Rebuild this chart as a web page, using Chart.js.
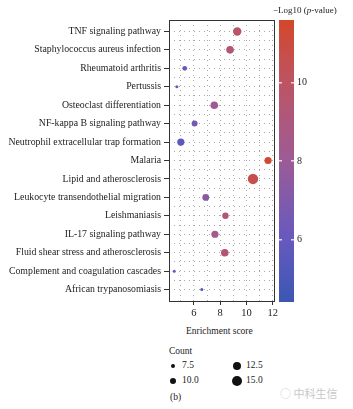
<!DOCTYPE html>
<html>
<head>
<meta charset="utf-8">
<script src="https://cdn.jsdelivr.net/npm/chart.js@4/dist/chart.umd.min.js"></script>
<style>
  body { margin: 0; background: #fff; font-family: "Liberation Serif", serif; color: #222; }
  #wrap { position: relative; width: 353px; height: 409px; overflow: hidden; }
  #mainCanvas { position: absolute; left: 0; top: 0; }
  #barCanvas { position: absolute; left: 270px; top: 0; }
  .txt { position: absolute; font-size: 9.5px; white-space: nowrap; }
  .dot { position: absolute; background: #111; border-radius: 50%; }
</style>
</head>
<body>
<div id="wrap">
  <canvas id="mainCanvas" width="280" height="325"></canvas>
  <canvas id="barCanvas" width="83" height="320"></canvas>
  <div class="txt" style="left:273px; top:5px; font-size:9px;">&minus;Log10 (<i>p</i>-value)</div>
  <div class="txt" style="left:186px; top:326px;">Enrichment score</div>
  <div class="txt" style="left:169px; top:346px;">Count</div>
  <div id="sizeLegend"></div>
  <div class="txt" style="left:170px; top:392px;">(b)</div>
  <div class="txt" style="left:280px; top:385px; color:#c8c8c8; font-family:'Noto Sans CJK SC'; font-size:11px;">&#9676; 中科生信</div>
</div>
<script>
"use strict";
const pathways = [
  "TNF signaling pathway",
  "Staphylococcus aureus infection",
  "Rheumatoid arthritis",
  "Pertussis",
  "Osteoclast differentiation",
  "NF-kappa B signaling pathway",
  "Neutrophil extracellular trap formation",
  "Malaria",
  "Lipid and atherosclerosis",
  "Leukocyte transendothelial migration",
  "Leishmaniasis",
  "IL-17 signaling pathway",
  "Fluid shear stress and atherosclerosis",
  "Complement and coagulation cascades",
  "African trypanosomiasis",
];
const enrichmentScores = [9.3, 8.75, 5.3, 4.7, 7.55, 6.05, 5.0, 11.65, 10.5, 6.9, 8.4, 7.6, 8.35, 4.5, 6.6];
const logPValues = [9.7, 9.4, 6.0, 5.7, 8.1, 6.5, 5.6, 11.4, 10.7, 7.3, 9.3, 8.4, 9.5, 5.8, 5.0];
const counts = [12, 11, 7.5, 5, 11, 9, 10.5, 10.5, 14.5, 10, 9.5, 10.5, 11, 5, 5];
const countLegend = [7.5, 10.0, 12.5, 15.0];
const xTicks = [6, 8, 10, 12];
const colorTicks = [6, 8, 10];

// colour scale of the bar on the right
const colorStopValues = [4.4, 6, 8, 10, 11.6];
const colorStopHex = ["#3b57b3", "#6659bf", "#9c5b96", "#bd5463", "#d3472b"];

function hexToRgb(hex) {
  const n = parseInt(hex.slice(1), 16);
  return [(n >> 16) & 255, (n >> 8) & 255, n & 255];
}

function colorFor(v) {
  const vals = colorStopValues;
  if (v <= vals[0]) return colorStopHex[0];
  if (v >= vals[vals.length - 1]) return colorStopHex[vals.length - 1];
  let i = 0;
  while (v > vals[i + 1]) i++;
  const t = (v - vals[i]) / (vals[i + 1] - vals[i]);
  const a = hexToRgb(colorStopHex[i]);
  const b = hexToRgb(colorStopHex[i + 1]);
  const c = a.map((x, k) => Math.round(x + (b[k] - x) * t));
  return `rgb(${c[0]},${c[1]},${c[2]})`;
}

function radiusFor(count) {
  return Math.max(1.5, 0.4 * count - 0.6);
}

const serif = { family: "Liberation Serif", size: 9.8 };

const frame = {
  id: "frame",
  afterDraw(chart) {
    const { ctx, chartArea: a } = chart;
    ctx.save();
    ctx.strokeStyle = "#333";
    ctx.lineWidth = 1;
    ctx.strokeRect(Math.round(a.left) + 0.5, Math.round(a.top) + 0.5,
      Math.round(a.right - a.left), Math.round(a.bottom - a.top));
    ctx.restore();
  },
};

new Chart(document.getElementById("mainCanvas"), {
  type: "scatter",
  data: {
    datasets: [{
      data: pathways.map((p, i) => ({ x: enrichmentScores[i], y: i })),
      pointRadius: (ctx) => radiusFor(counts[ctx.dataIndex]),
      pointHoverRadius: (ctx) => radiusFor(counts[ctx.dataIndex]),
      backgroundColor: (ctx) => colorFor(logPValues[ctx.dataIndex]),
      borderWidth: 0,
    }],
  },
  plugins: [frame],
  options: {
    responsive: false,
    animation: false,
    layout: { padding: { top: 20, right: 6 } },
    plugins: { legend: { display: false }, tooltip: { enabled: false } },
    scales: {
      x: {
        min: 4.1,
        max: 12.1,
        afterBuildTicks: (scale) => {
          scale.ticks = [5, 6, 7, 8, 9, 10, 11, 12].map((v) => ({ value: v }));
        },
        afterFit: (scale) => { scale.height = 24; },
        ticks: {
          autoSkip: false,
          maxRotation: 0,
          color: "#222",
          font: { family: "Liberation Serif", size: 10.5 },
          padding: 2,
          callback: (v) => (xTicks.includes(v) ? v : ""),
        },
        grid: {
          color: "#a8a8a8",
          tickLength: 4,
          tickColor: (ctx) => (ctx.tick && xTicks.includes(ctx.tick.value) ? "#333" : "transparent"),
          tickBorderDash: [],
        },
        border: { display: false, dash: [1, 4] },
      },
      y: {
        min: -0.62,
        max: 14.62,
        reverse: true,
        afterBuildTicks: (scale) => {
          const t = [];
          for (let k = 0; k < pathways.length * 2 - 1; k++) t.push({ value: k / 2 });
          scale.ticks = t;
        },
        afterFit: (scale) => { scale.width = 169; },
        ticks: {
          autoSkip: false,
          color: "#222",
          font: serif,
          padding: 3,
          callback: (v) => (Number.isInteger(v) ? pathways[v] : ""),
        },
        grid: {
          color: "#a8a8a8",
          tickLength: 5,
          tickColor: (ctx) => (ctx.tick && Number.isInteger(ctx.tick.value) ? "#333" : "transparent"),
          tickBorderDash: [],
        },
        border: { display: false, dash: [1, 4] },
      },
    },
  },
});

// colour bar
new Chart(document.getElementById("barCanvas"), {
  type: "bar",
  data: {
    labels: [""],
    datasets: [{
      data: [[colorStopValues[0], colorStopValues[colorStopValues.length - 1]]],
      categoryPercentage: 1,
      barPercentage: 1,
      borderWidth: 0,
      backgroundColor: (ctx) => {
        const { chart } = ctx;
        const area = chart.chartArea;
        if (!area) return colorStopHex[0];
        const y = chart.scales.y;
        const lo = colorStopValues[0];
        const hi = colorStopValues[colorStopValues.length - 1];
        const g = chart.ctx.createLinearGradient(0, y.getPixelForValue(lo), 0, y.getPixelForValue(hi));
        colorStopValues.forEach((v, i) => g.addColorStop((v - lo) / (hi - lo), colorStopHex[i]));
        return g;
      },
    }],
  },
  options: {
    responsive: false,
    animation: false,
    layout: { padding: { top: 20, left: 9, bottom: 18 } },
    plugins: { legend: { display: false }, tooltip: { enabled: false } },
    scales: {
      x: { display: false },
      y: {
        position: "right",
        min: colorStopValues[0],
        max: colorStopValues[colorStopValues.length - 1],
        afterBuildTicks: (scale) => {
          scale.ticks = colorTicks.map((v) => ({ value: v }));
        },
        afterFit: (scale) => { scale.width = 59; },
        ticks: { color: "#222", font: { family: "Liberation Serif", size: 10 }, padding: 3 },
        grid: { z: 1, color: "rgba(255,235,240,0.85)", lineWidth: 1.5, drawTicks: false },
        border: { display: false, dash: [3, 9] },
      },
    },
  },
});

// size legend
const legendBox = document.getElementById("sizeLegend");
countLegend.forEach((c, i) => {
  const cx = i < 2 ? 173 : 237;
  const cy = i % 2 === 0 ? 366 : 381;
  const r = radiusFor(c);
  const dot = document.createElement("div");
  dot.className = "dot";
  dot.style.left = cx - r + "px";
  dot.style.top = cy - r + "px";
  dot.style.width = 2 * r + "px";
  dot.style.height = 2 * r + "px";
  legendBox.appendChild(dot);
  const lab = document.createElement("div");
  lab.className = "txt";
  lab.style.left = cx + 9 + "px";
  lab.style.top = cy - 6 + "px";
  lab.textContent = c.toFixed(1);
  legendBox.appendChild(lab);
});
</script>
</body>
</html>
